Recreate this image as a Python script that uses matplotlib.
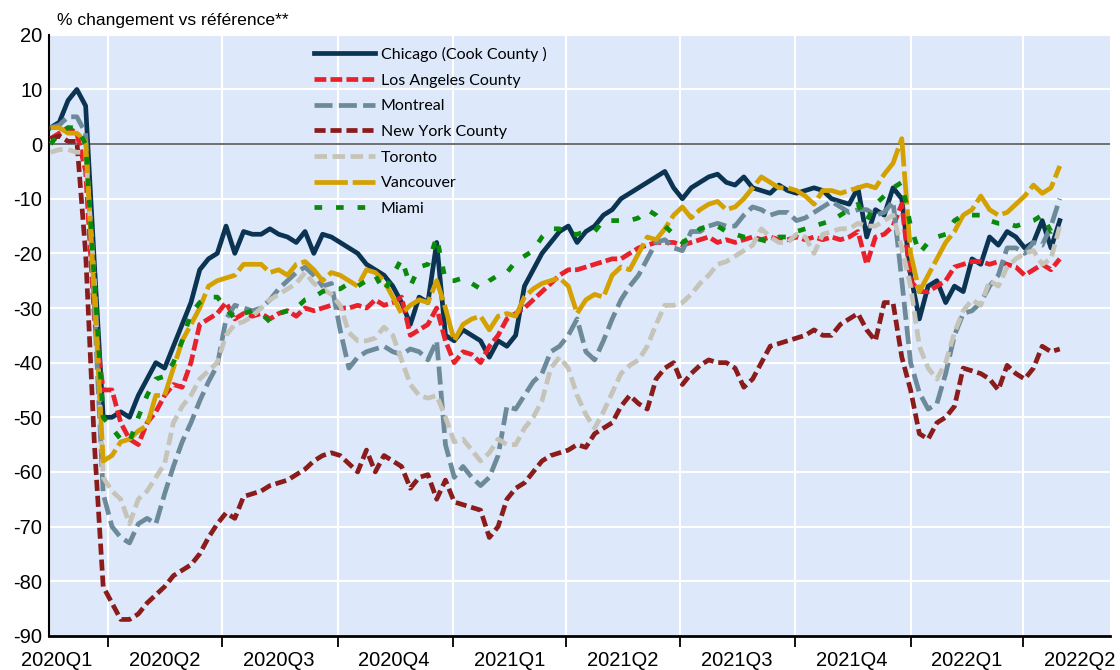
import matplotlib
matplotlib.use('Agg')
import matplotlib.pyplot as plt
import pandas as pd

plt.rcParams['font.family'] = ['Liberation Sans', 'DejaVu Sans']
plt.rcParams['lines.scale_dashes'] = False
plt.rcParams['axes.unicode_minus'] = False

# weekly readings, starting 2020-02-15
start_date = '2020-02-15'

chicago = [3, 4, 8, 10, 7, -22, -50, -50, -49, -50,
           -46, -43, -40, -41, -37, -33, -29, -23, -21, -20,
           -15, -20, -16, -16.5, -16.5, -15.5, -16.5, -17, -18, -16,
           -20, -16.5, -17, -18, -19, -20, -22, -23, -24, -26,
           -29, -33, -28, -29, -18, -35, -36, -34, -35, -36,
           -39, -36, -37, -35, -26, -23, -20, -18, -16, -15,
           -18, -16, -15, -13, -12, -10, -9, -8, -7, -6,
           -5, -8, -10, -8, -7, -6, -5.5, -7, -7.5, -6,
           -8, -8.5, -9, -7.5, -8.5, -9, -8.5, -8, -8.5, -10,
           -10.5, -11, -8, -17, -12, -13, -8, -10, -24, -32,
           -26, -25, -29, -26, -27, -21, -22, -17, -18.5, -16,
           -17, -19, -18, -14, -19, -14]

los_angeles = [1, 2, 3, 2, -5, -32, -45, -45, -51, -54,
               -55, -51, -49, -46, -44, -44.5, -40, -33, -32, -31,
               -29, -32, -31, -31.5, -31, -32, -31, -30.5, -31.5, -30,
               -30.5, -30, -29.5, -30, -30, -29.5, -30, -28.5, -29.5, -29,
               -28, -35, -34, -33, -30, -36, -40, -38, -38.5, -40,
               -37, -35, -32, -31, -30, -28.5, -27, -25.5, -24, -23,
               -23, -22.5, -22, -21.5, -21, -21, -20, -19, -18.5, -18,
               -18, -18, -18.5, -18, -17.5, -17, -18, -17.5, -18, -17.5,
               -17, -17.5, -17, -17.5, -17.5, -17, -17.5, -17, -17.5, -17,
               -17.5, -17, -16, -22, -17, -16.5, -15, -11, -25, -27,
               -27, -26, -25, -22.5, -22, -21.5, -21.5, -22, -21.5, -22,
               -22.5, -24, -23, -22, -23, -21]

montreal = [3, 3.5, 5, 5, 2, -30, -64, -70, -72, -73,
            -69.5, -68.5, -69.5, -64, -59, -54.5, -51, -47, -43.5, -40.5,
            -32, -29.5, -30, -30.5, -30, -28.5, -26.5, -25, -23.5, -22.5,
            -24, -26, -25.5, -34, -41, -39, -38, -37.5, -37, -38,
            -38.5, -37.5, -38, -39.5, -36, -55, -61, -59, -61, -62.5,
            -61, -57, -48, -48.5, -46, -43.5, -42, -38, -37, -35,
            -32, -38, -39.5, -36, -32, -28.5, -26, -24, -21, -18,
            -17.5, -19, -19.5, -16, -16, -15, -14.5, -15, -15, -13,
            -11.5, -12, -13, -12.5, -12.5, -14, -13.5, -12.5, -11.5, -10.5,
            -11.5, -12.5, -12, -12, -13, -12.5, -10.5, -25, -40, -45.5,
            -48.5, -47.5, -42, -35, -31, -30.5, -29, -26, -24, -19,
            -19, -20, -18, -18.5, -15, -10]

new_york = [1, 1.5, 0.5, 0.5, -20, -55, -81, -84, -87, -87,
            -86, -84, -82.5, -81, -79, -78, -77, -75, -72, -69.5,
            -67.5, -68.5, -64.5, -64, -63.5, -62.5, -62, -61.5, -60.5, -59.5,
            -58, -57, -56.5, -57, -58.5, -60, -56, -60, -57, -58,
            -59, -63, -61, -60.5, -65, -61.5, -65.5, -66, -66.5, -67,
            -72, -70, -65, -63, -62, -60, -58, -57, -56.5, -56,
            -55, -55.5, -53, -52, -51, -48, -46, -47.5, -48.5, -43,
            -41, -40, -44, -42, -40.5, -39.5, -40, -40, -41, -44.5,
            -43, -40, -37, -36.5, -36, -35.5, -35, -34, -35, -35,
            -33, -32, -31, -34, -36, -29, -29, -39, -45, -53,
            -54, -51, -50, -48, -41, -41.5, -42, -43, -45, -40.5,
            -42, -43, -41, -37, -38, -37.5]

toronto = [-1.5, -1, -1, -1.5, -1.5, -25, -61, -63.5, -65, -69.5,
           -65, -63.5, -61, -58.5, -51, -48, -46, -43, -41.5, -40,
           -35, -33, -32.5, -31.5, -30, -28.5, -27.5, -26.5, -25.5, -23.5,
           -25.5, -26.5, -27.5, -29.5, -34.5, -36, -36, -35.5, -33.5, -35,
           -39.5, -44, -46, -46.5, -46, -50, -54.5, -54, -56, -58,
           -56.5, -54, -55, -55, -52, -50, -47, -41, -39, -41,
           -46, -49.5, -52, -49, -45.5, -42, -40.5, -39.5, -37, -33,
           -29.5, -29.5, -29, -27.5, -25.5, -24, -22, -21.5, -20.5, -19.5,
           -18.5, -15.5, -17, -18, -18, -16.5, -17, -20, -16.5, -16,
           -15.5, -15.5, -14.5, -15, -15, -14, -13, -19, -26, -37,
           -41, -43, -40, -34.5, -30.5, -28.5, -29.5, -25, -26, -22.5,
           -21, -20, -19.5, -22, -21, -15]

vancouver = [3, 3, 2, 2, 0.5, -28, -58, -57, -54.5, -54,
             -52.5, -51.5, -46, -46, -41, -36, -33, -30, -26, -25,
             -24.5, -24, -22, -22, -22, -23.5, -23, -24, -22, -21.5,
             -23, -25, -23.5, -24, -25, -26, -23, -23.5, -25, -28,
             -31, -29.5, -28.5, -29, -25, -30, -36, -33, -32, -31.5,
             -34, -31.5, -31, -31.5, -28, -26.5, -25.5, -25, -24.5, -26,
             -31, -28.5, -27.5, -28, -24, -22.5, -23, -20, -17, -17.5,
             -15.5, -13, -11.5, -13.5, -12, -11, -10.5, -12, -11.5, -10,
             -8, -6, -7, -8, -8, -8.5, -9.5, -11, -8.5, -8.5,
             -9, -8.5, -8, -7.5, -8, -5.5, -3.5, 1, -20, -27,
             -24, -21, -18, -16, -13, -12, -9.5, -12, -13, -12.5,
             -11, -9.5, -7.5, -9, -8, -4]

miami = [0, 2, 3, 3, 0, -25, -50, -52, -54, -54.5,
         -50, -46, -43, -42.5, -40, -36, -31, -29, -28, -28,
         -30, -32, -31, -30.5, -31, -32.5, -31, -30.5, -30, -28.5,
         -28, -27, -26.5, -26.5, -25.5, -26, -25, -24, -27, -24,
         -21, -26, -22.5, -22, -17, -25, -25, -24.5, -25.5, -26.5,
         -25, -24, -23.5, -21.5, -20.5, -19.5, -17, -15.5, -15.5, -16.5,
         -16.5, -16, -16, -14, -14, -14, -14, -13.5, -12, -13,
         -15, -16.5, -18, -17, -15.5, -15, -15, -16, -16.5, -17,
         -17, -17.5, -18, -17, -17, -16, -15.5, -15, -14.5, -14,
         -13, -12, -11, -14, -11, -9.5, -8, -7, -15, -20,
         -18, -17, -16.5, -14, -13, -13, -13, -14, -14.5, -14.5,
         -15, -14.5, -14, -13, -16, -14.5]

quarter_labels = ['2020Q1', '2020Q2', '2020Q3', '2020Q4', '2021Q1',
                  '2021Q2', '2021Q3', '2021Q4', '2022Q1', '2022Q2']

dates = pd.date_range(start_date, periods=len(chicago), freq='7D')

# name, values, colour, dash pattern (points)
series = [
    ('Chicago (Cook County )', chicago, '#0b3352', None),
    ('Los Angeles County', los_angeles, '#e8212b', (8.5, 3)),
    ('Montreal', montreal, '#6d8a9b', (13, 4.5)),
    ('New York County', new_york, '#8b1c1c', (8, 3.5)),
    ('Toronto', toronto, '#c6c3b8', (9, 4)),
    ('Vancouver', vancouver, '#d4a100', (24, 3.5)),
    ('Miami', miami, '#0a8a0a', (5.5, 10)),
]

x_left = pd.Timestamp('2020-02-14')
x_right = pd.Timestamp('2022-06-09')

fig = plt.figure(figsize=(11.2, 6.7), dpi=100)
ax = fig.add_axes([0.044, 0.051, 0.947, 0.897])
ax.set_facecolor('#dde9fa')

for name, vals, color, dash in series:
    line, = ax.plot(dates, vals, color=color, lw=3.4, label=name,
                    solid_joinstyle='round', dash_joinstyle='round', zorder=3)
    if dash:
        line.set_dashes(dash)

ax.axhline(0, color='#707070', lw=1.4, zorder=2)

ax.set_ylim(-90, 20)
ax.set_yticks(range(-90, 21, 10))

q_starts = pd.date_range('2020-01-01', periods=len(quarter_labels), freq='QS')
q_mids = [max(s + pd.Timedelta(days=45), x_left + pd.Timedelta(days=6)) for s in q_starts]
ax.set_xticks(q_starts)
ax.set_xticklabels([])
ax.set_xticks(q_mids, minor=True)
ax.set_xticklabels(quarter_labels, minor=True)
# limits after the ticks, set_xticks would widen them
ax.set_xlim(x_left, x_right)

ax.tick_params(axis='x', which='major', length=8, width=1.3, direction='out')
ax.tick_params(axis='x', which='minor', length=0, labelsize=14.5, pad=11)
ax.tick_params(axis='y', length=0, labelsize=14.5, pad=5)

ax.grid(True, which='major', color='white', lw=1.5)
ax.set_axisbelow(True)

for side in ['top', 'right']:
    ax.spines[side].set_visible(False)
ax.spines['left'].set_linewidth(1.5)
ax.spines['bottom'].set_linewidth(2)

fig.text(0.051, 0.970, '% changement vs référence**', fontsize=12.6, va='center')

leg = ax.legend(loc='upper left', bbox_to_anchor=(0.25, 0.980), frameon=False,
                prop={'family': 'Lato', 'size': 11.5}, handlelength=3.8,
                handletextpad=0.35, labelspacing=0.72, borderpad=0,
                borderaxespad=0)

fig.savefig('out.png', dpi=100)
